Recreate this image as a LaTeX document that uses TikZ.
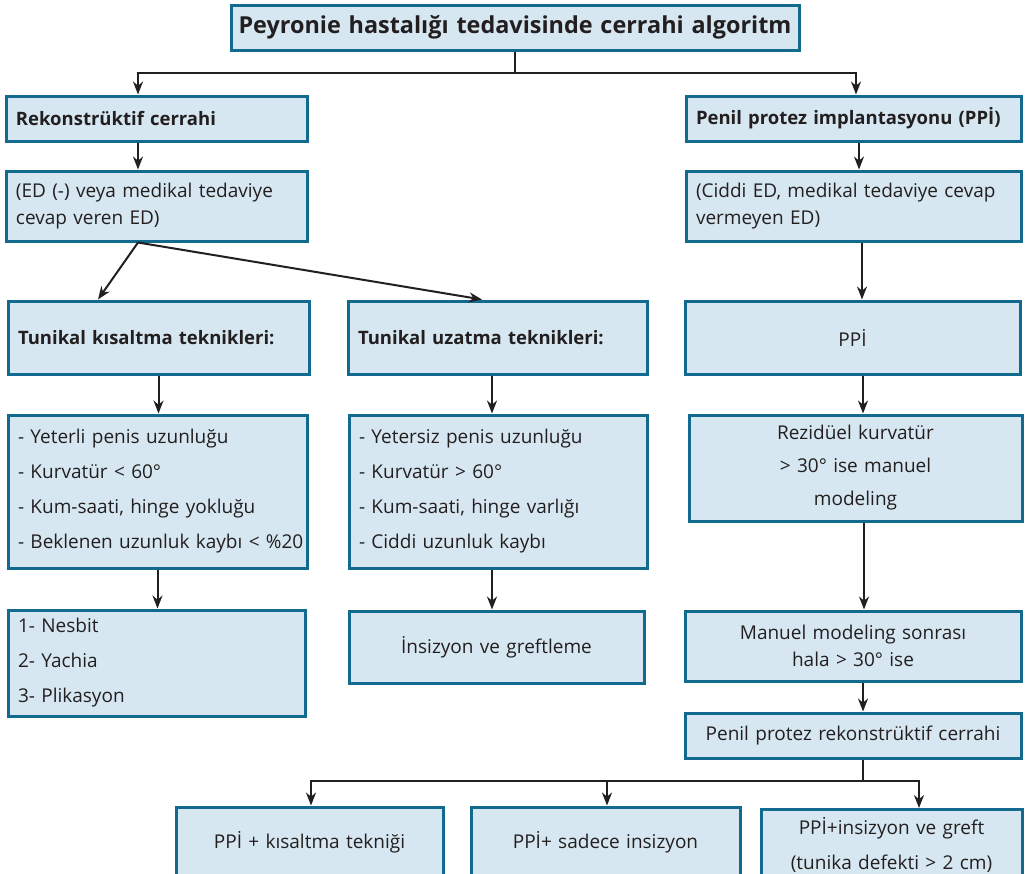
\documentclass[tikz,border=0pt]{standalone}
\usepackage{fontspec}
\setmainfont{Open Sans}
\usetikzlibrary{arrows.meta}
\definecolor{boxfill}{RGB}{214,231,241}
\definecolor{boxline}{RGB}{19,106,143}
\definecolor{ink}{RGB}{35,31,32}
\tikzset{
  flowbox/.style  = {draw=boxline,fill=boxfill,line width=3pt,inner ysep=0pt,text=ink},
  leftbox/.style  = {flowbox,inner xsep=10pt,align=left},
  midbox/.style   = {flowbox,inner xsep=2pt,align=center},
  headtxt/.style  = {font=\fontsize{18.5}{27}\selectfont\bfseries},
  tighttxt/.style = {font=\fontsize{19}{27}\selectfont},
  midtxt/.style   = {font=\fontsize{19}{33}\selectfont},
  loosetxt/.style = {font=\fontsize{19}{35}\selectfont},
  arr/.style      = {-{Stealth[length=13pt,width=10pt]},line width=2pt,ink}
}

\begin{document}
\begin{tikzpicture}[x=1pt,y=-1pt]
  \useasboundingbox (0,0) rectangle (1027,873);
  \clip (0,0) rectangle (1027,873);
  % title
  \node[midbox,font=\fontsize{23.4}{27}\selectfont\bfseries,text width=564pt,minimum height=45pt] (title) at (515,27.5) {Peyronie hastalığı tedavisinde cerrahi algoritm};
  % left branch
  \node[leftbox,headtxt,text width=281pt,minimum height=45pt] (rek) at (156.5,118.5) {Rekonstrüktif cerrahi};
  \node[leftbox,tighttxt,text width=281pt,minimum height=70pt] (edleft) at (156.5,206) {(ED (-) veya medikal tedaviye\\cevap veren ED)};
  \node[leftbox,headtxt,text width=281pt,minimum height=73pt] (kisa) at (158.5,337.5) {Tunikal kısaltma teknikleri:};
  \node[leftbox,headtxt,text width=279pt,minimum height=73pt] (uzat) at (497.5,337.5) {Tunikal uzatma teknikleri:};
  \node[leftbox,loosetxt,text width=279pt,minimum height=153pt] (listk) at (157.5,491.5) {- Yeterli penis uzunluğu\\- Kurvatür < 60°\\- Kum-saati, hinge yokluğu\\\mbox{- Beklenen uzunluk kaybı < \%20}};
  \node[leftbox,loosetxt,text width=278pt,minimum height=153pt] (listu) at (498,491.5) {- Yetersiz penis uzunluğu\\- Kurvatür > 60°\\- Kum-saati, hinge varlığı\\- Ciddi uzunluk kaybı};
  \node[leftbox,loosetxt,text width=277pt,minimum height=106pt] (nesbit) at (156.5,663) {1- Nesbit\\2- Yachia\\3- Plikasyon};
  \node[midbox,tighttxt,text width=291pt,minimum height=72pt] (insiz) at (496.5,647) {İnsizyon ve greftleme};
  % right branch
  \node[leftbox,headtxt,text width=315pt,minimum height=45pt] (ppi) at (853.5,118.5) {\mbox{Penil protez implantasyonu (PPİ)}};
  \node[leftbox,tighttxt,text width=315pt,minimum height=70pt] (ciddi) at (853.5,206) {\mbox{(Ciddi ED, medikal tedaviye cevap}\\vermeyen ED)};
  \node[midbox,tighttxt,text width=331pt,minimum height=73pt] (ppibox) at (852.5,337.5) {PPİ};
  \node[midbox,midtxt,text width=329pt,minimum height=106pt] (rez) at (855.5,468) {Rezidüel kurvatür\\> 30° ise manuel\\modeling};
  \node[midbox,tighttxt,text width=332pt,minimum height=70pt] (manuel) at (853,646) {Manuel modeling sonrası\\hala > 30° ise};
  \node[midbox,tighttxt,text width=332pt,minimum height=45pt] (penrek) at (853,735.5) {Penil protez rekonstrüktif cerrahi};
  % bottom row
  \node[midbox,tighttxt,text width=263pt,minimum height=70pt] (b1) at (309.5,842) {PPİ + kısaltma tekniği};
  \node[midbox,tighttxt,text width=265pt,minimum height=70pt] (b2) at (605.5,842) {PPİ+ sadece insizyon};
  \node[midbox,loosetxt,text width=257pt,minimum height=70pt] (b3) at (891.5,844.5) {PPİ+insizyon ve greft\\(tunika defekti > 2 cm)};
  % connectors
  \draw[arr] (title.south) -- ++(0,21) -| ([xshift=-18.5]rek.north);
  \draw[arr] (title.south) -- ++(0,21) -| ([xshift=2.5]ppi.north);
  \draw[arr] ([xshift=-18.5]rek.south) -- ([xshift=-18.5]edleft.north);
  \draw[arr] ([xshift=-18.5]edleft.south) -- ([xshift=-60.5]kisa.north);
  \draw[arr] ([xshift=-18.5]edleft.south) -- ([xshift=-15.5]uzat.north);
  \draw[arr] (kisa.south) -- (kisa.south |- listk.north);
  \draw[arr] ([xshift=-5.5]uzat.south) -- ([xshift=-5.5]uzat.south |- listu.north);
  \draw[arr] (listk.south) -- (listk.south |- nesbit.north);
  \draw[arr] ([xshift=-6]listu.south) -- ([xshift=-6]listu.south |- insiz.north);
  \draw[arr] ([xshift=5.5]ppi.south) -- ([xshift=5.5]ppi.south |- ciddi.north);
  \draw[arr] ([xshift=8.5]ciddi.south) -- ([xshift=8.5]ciddi.south |- ppibox.north);
  \draw[arr] ([xshift=10.5]ppibox.south) -- ([xshift=10.5]ppibox.south |- rez.north);
  \draw[arr] ([xshift=8.5]rez.south) -- ([xshift=8.5]rez.south |- manuel.north);
  \draw[arr] ([xshift=10]manuel.south) -- ([xshift=10]manuel.south |- penrek.north);
  \draw[arr] ([xshift=10]penrek.south) -- ++(0,21) -| ([xshift=1.5]b1.north);
  \draw[arr] ([xshift=10]penrek.south) -- ++(0,21) -| ([xshift=1.5]b2.north);
  \draw[arr] ([xshift=10]penrek.south) -- ++(0,21) -| ([xshift=27.5]b3.north);
\end{tikzpicture}
\end{document}
